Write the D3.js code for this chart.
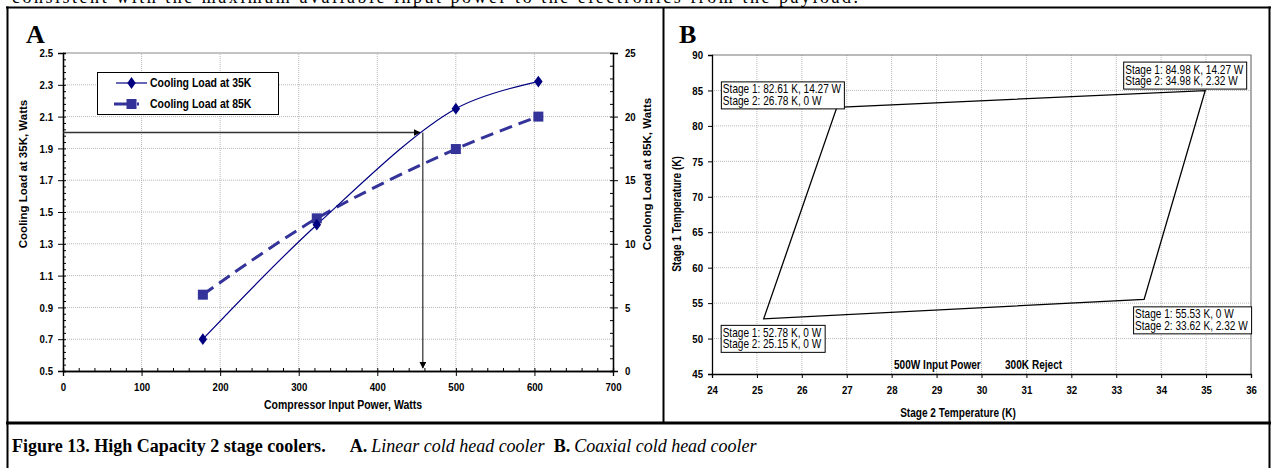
<!DOCTYPE html>
<html>
<head>
<meta charset="utf-8">
<script src="https://cdn.jsdelivr.net/npm/d3@7"></script>
<style>
body { margin: 0; background: #fff; }
text { font-family: "Liberation Sans Narrow", "Arial Narrow", "Liberation Sans", sans-serif; }
.serif { font-family: "Liberation Serif", "Times New Roman", serif; }
.tick text { font-weight: bold; font-size: 11.5px; fill: #000; }
.grid line { stroke: #b8b8b8; stroke-dasharray: 1,1; }
</style>
</head>
<body>
<script>
// ---- panel A : linear cold head cooler
var power = [178, 323, 500, 605];          // compressor input power, W
var load35 = [0.70, 1.42, 2.15, 2.32];     // cooling load at 35K, W (left axis)
var load85 = [6.0, 12.0, 17.45, 20.0];     // cooling load at 85K, W (right axis)
var seriesNames = ["Cooling Load at 35K", "Cooling Load at 85K"];
var readOff = {power: 458, load: 2.0};     // arrow read-off at 2 W

// ---- panel B : coaxial cold head cooler (load map corners)
var stage2Temp = [25.15, 26.78, 34.98, 33.62];
var stage1Temp = [52.78, 82.61, 84.98, 55.53];
var cornerLabels = [
  ["Stage 1: 52.78 K, 0 W", "Stage 2: 25.15 K, 0 W"],
  ["Stage 1: 82.61 K, 14.27 W", "Stage 2: 26.78 K, 0 W"],
  ["Stage 1: 84.98 K, 14.27 W", "Stage 2: 34.98 K, 2.32 W"],
  ["Stage 1: 55.53 K, 0 W", "Stage 2: 33.62 K, 2.32 W"]
];
var notes = ["500W Input Power", "300K Reject"];

var W = 1271, H = 468;
var NARROW = 0.84;   // no Arial Narrow here, so squeeze the sans text
var svg = d3.select("body").append("svg")
  .attr("width", W).attr("height", H);

// squeeze text horizontally around its own x
function narrow(sel, k) {
  sel.each(function () {
    var t = d3.select(this);
    var x = +t.attr("x") || 0;
    var tr = t.attr("transform") || "";
    t.attr("transform", tr + " translate(" + x + ",0) scale(" + k + ",1) translate(" + (-x) + ",0)");
  });
}

// arrow marker
var defs = svg.append("defs");
defs.append("marker").attr("id", "arr")
  .attr("viewBox", "0 0 10 10").attr("refX", 9).attr("refY", 5)
  .attr("markerWidth", 7).attr("markerHeight", 7)
  .attr("markerUnits", "userSpaceOnUse")
  .attr("orient", "auto")
  .append("path").attr("d", "M0,0L10,5L0,10z").attr("fill", "#000");

// ---- page frame / table lines
svg.append("text").attr("class", "serif")
  .attr("x", 12).attr("y", 2.5)
  .attr("font-size", 18)
  .attr("textLength", 846).attr("lengthAdjust", "spacing")
  .text("consistent with the maximum available input power to the electronics from the payload.");

var frame = svg.append("g").attr("stroke", "#000").attr("fill", "none");
frame.append("line").attr("x1", 6).attr("x2", W).attr("y1", 7.5).attr("y2", 7.5).attr("stroke-width", 2);
frame.append("line").attr("x1", 7.5).attr("x2", 7.5).attr("y1", 6.5).attr("y2", H).attr("stroke-width", 2);
frame.append("line").attr("x1", 663.5).attr("x2", 663.5).attr("y1", 7).attr("y2", 422).attr("stroke-width", 2);
frame.append("line").attr("x1", 6).attr("x2", W).attr("y1", 423).attr("y2", 423).attr("stroke-width", 3);
frame.append("line").attr("x1", 1269.5).attr("x2", 1269.5).attr("y1", 6.5).attr("y2", H).attr("stroke-width", 2);

// caption
var cap = svg.append("text").attr("class", "serif")
  .attr("x", 12).attr("y", 452).attr("font-size", 18);
cap.append("tspan").attr("font-weight", "bold").text("Figure 13. High Capacity 2 stage coolers.");
cap.append("tspan").attr("dx", 24).attr("font-weight", "bold").text("A.");
cap.append("tspan").attr("dx", 4).attr("font-style", "italic").text("Linear cold head cooler");
cap.append("tspan").attr("dx", 9).attr("font-weight", "bold").text("B.");
cap.append("tspan").attr("dx", 4).attr("font-style", "italic").text("Coaxial cold head cooler");

// ================= PANEL A =================
var xA = d3.scaleLinear().domain([0, 700]).range([63, 613]);
var yA = d3.scaleLinear().domain([0.5, 2.5]).range([371, 53]);
var yA2 = d3.scaleLinear().domain([0, 25]).range([371, 53]);

var gA = svg.append("g");

gA.append("text").attr("class", "serif").attr("x", 26).attr("y", 43)
  .attr("font-size", 26).attr("font-weight", "bold").text("A");

// grid
gA.append("g").attr("class", "grid")
  .selectAll("line").data(d3.range(100, 700, 100)).enter().append("line")
  .attr("x1", function (d) { return xA(d); }).attr("x2", function (d) { return xA(d); })
  .attr("y1", yA(0.5)).attr("y2", yA(2.5));
gA.append("g").attr("class", "grid")
  .selectAll("line").data(d3.range(0.7, 2.45, 0.2)).enter().append("line")
  .attr("x1", xA(0)).attr("x2", xA(700))
  .attr("y1", function (d) { return yA(d); }).attr("y2", function (d) { return yA(d); });
gA.append("line").attr("x1", xA(0)).attr("x2", xA(700))
  .attr("y1", yA(2.5)).attr("y2", yA(2.5)).attr("stroke", "#888");

// axes
gA.append("g").attr("transform", "translate(0," + yA(0.5) + ")")
  .call(d3.axisBottom(xA).tickValues(d3.range(0, 701, 100)).tickSize(5).tickPadding(7).tickFormat(d3.format("d")));
gA.append("g").attr("transform", "translate(0," + yA(0.5) + ")")
  .call(d3.axisBottom(xA).tickValues(d3.range(0, 701, 20)).tickSize(-3).tickFormat(""));
gA.append("g").attr("transform", "translate(" + xA(0) + ",0)")
  .call(d3.axisLeft(yA).tickValues(d3.range(0.5, 2.51, 0.2)).tickSize(5).tickPadding(5).tickFormat(d3.format(".1f")));
gA.append("g").attr("transform", "translate(" + xA(0) + ",0)")
  .call(d3.axisLeft(yA).tickValues(d3.range(0.5, 2.51, 0.04)).tickSize(-3).tickFormat(""));
gA.append("g").attr("transform", "translate(" + xA(700) + ",0)")
  .call(d3.axisRight(yA2).tickValues(d3.range(0, 26, 5)).tickSize(5).tickPadding(7).tickFormat(d3.format("d")));
gA.append("g").attr("transform", "translate(" + xA(700) + ",0)")
  .call(d3.axisRight(yA2).tickValues(d3.range(0, 26, 1)).tickSize(-3).tickFormat(""));
gA.selectAll(".domain").attr("stroke", "#000").attr("stroke-width", 1.3);
narrow(gA.selectAll(".tick text"), NARROW);

// axis titles
gA.append("text").attr("transform", "translate(27,174) rotate(-90)")
  .attr("text-anchor", "middle").attr("font-family", "Liberation Sans, Arial, sans-serif")
  .attr("font-weight", "bold").attr("font-size", 11.5)
  .text("Cooling Load at 35K, Watts");
gA.append("text").attr("transform", "translate(651,174) rotate(-90)")
  .attr("text-anchor", "middle").attr("font-family", "Liberation Sans, Arial, sans-serif")
  .attr("font-weight", "bold").attr("font-size", 11.5)
  .text("Coolong Load at 85K, Watts");
narrow(gA.append("text").attr("x", 343).attr("y", 409)
  .attr("text-anchor", "middle").attr("font-weight", "bold").attr("font-size", 12.5)
  .text("Compressor Input Power, Watts"), NARROW);

// read-off arrows
gA.append("line")
  .attr("x1", xA(0)).attr("x2", xA(readOff.power) - 3)
  .attr("y1", yA(readOff.load)).attr("y2", yA(readOff.load))
  .attr("stroke", "#333").attr("stroke-width", 1.5).attr("marker-end", "url(#arr)");
gA.append("line")
  .attr("x1", xA(readOff.power)).attr("x2", xA(readOff.power))
  .attr("y1", yA(readOff.load)).attr("y2", yA(0.5) - 3)
  .attr("stroke", "#000").attr("stroke-width", 1).attr("marker-end", "url(#arr)");

// series
var pts35 = power.map(function (p, i) { return [xA(p), yA(load35[i])]; });
var pts85 = power.map(function (p, i) { return [xA(p), yA2(load85[i])]; });
var smooth = d3.line().curve(d3.curveCatmullRom.alpha(0.5));

gA.append("path").attr("d", smooth(pts85)).attr("fill", "none")
  .attr("stroke", "#333399").attr("stroke-width", 3).attr("stroke-dasharray", "13,7");
gA.append("path").attr("d", smooth(pts35)).attr("fill", "none")
  .attr("stroke", "#000080").attr("stroke-width", 1.2);

gA.selectAll(".sq").data(pts85).enter().append("rect")
  .attr("x", function (d) { return d[0] - 5; }).attr("y", function (d) { return d[1] - 5; })
  .attr("width", 10).attr("height", 10).attr("fill", "#333399");
var diamond = d3.symbol().type(d3.symbolDiamond).size(40);
gA.selectAll(".dm").data(pts35).enter().append("path")
  .attr("d", diamond)
  .attr("transform", function (d) { return "translate(" + d[0] + "," + d[1] + ") scale(1.25,1)"; })
  .attr("fill", "#000080");

// legend
var lg = gA.append("g").attr("transform", "translate(97,72)");
lg.append("rect").attr("x", 0.5).attr("y", 0.5).attr("width", 181).attr("height", 42)
  .attr("fill", "#fff").attr("stroke", "#000").attr("stroke-width", 1);
lg.append("line").attr("x1", 19).attr("x2", 50).attr("y1", 11).attr("y2", 11)
  .attr("stroke", "#000080").attr("stroke-width", 1.2);
lg.append("path").attr("d", diamond).attr("transform", "translate(34.5,11) scale(1.25,1)").attr("fill", "#000080");
lg.append("line").attr("x1", 17).attr("x2", 51).attr("y1", 32).attr("y2", 32)
  .attr("stroke", "#333399").attr("stroke-width", 3).attr("stroke-dasharray", "13,10,2,10");
lg.append("rect").attr("x", 29.5).attr("y", 27).attr("width", 10).attr("height", 10).attr("fill", "#333399");
narrow(lg.selectAll(".lt").data(seriesNames).enter().append("text")
  .attr("x", 53).attr("y", function (d, i) { return 15 + i * 21; })
  .attr("font-weight", "bold").attr("font-size", 12.5).text(function (d) { return d; }), NARROW);

// ================= PANEL B =================
var xB = d3.scaleLinear().domain([24, 36]).range([712, 1251]);
var yB = d3.scaleLinear().domain([45, 90]).range([374, 55]);
var gB = svg.append("g");

gB.append("text").attr("class", "serif").attr("x", 679).attr("y", 43)
  .attr("font-size", 26).attr("font-weight", "bold").text("B");

gB.append("g").attr("class", "grid")
  .selectAll("line").data(d3.range(25, 36, 1)).enter().append("line")
  .attr("x1", function (d) { return xB(d); }).attr("x2", function (d) { return xB(d); })
  .attr("y1", yB(45)).attr("y2", yB(90));
gB.append("g").attr("class", "grid")
  .selectAll("line").data(d3.range(50, 90, 5)).enter().append("line")
  .attr("x1", xB(24)).attr("x2", xB(36))
  .attr("y1", function (d) { return yB(d); }).attr("y2", function (d) { return yB(d); });
gB.append("path")
  .attr("d", "M" + xB(24) + "," + yB(90) + "H" + xB(36) + "V" + yB(45))
  .attr("fill", "none").attr("stroke", "#777").attr("stroke-width", 1.2);

gB.append("g").attr("transform", "translate(0," + yB(45) + ")")
  .call(d3.axisBottom(xB).tickValues(d3.range(24, 37, 1)).tickSize(4).tickPadding(8).tickFormat(d3.format("d")));
gB.append("g").attr("transform", "translate(" + xB(24) + ",0)")
  .call(d3.axisLeft(yB).tickValues(d3.range(45, 91, 5)).tickSize(4).tickPadding(5).tickFormat(d3.format("d")));
gB.selectAll(".domain").attr("stroke", "#000").attr("stroke-width", 1.3);
narrow(gB.selectAll(".tick text"), NARROW);

narrow(gB.append("text").attr("transform", "translate(681,214) rotate(-90)")
  .attr("text-anchor", "middle").attr("font-weight", "bold").attr("font-size", 12)
  .text("Stage 1 Temperature (K)"), NARROW);
narrow(gB.append("text").attr("x", 958).attr("y", 417)
  .attr("text-anchor", "middle").attr("font-weight", "bold").attr("font-size", 12)
  .text("Stage 2 Temperature (K)"), NARROW);

var corners = stage2Temp.map(function (t, i) { return [xB(t), yB(stage1Temp[i])]; });
gB.append("path").attr("d", d3.line()(corners) + "Z")
  .attr("fill", "none").attr("stroke", "#000").attr("stroke-width", 1.3);

// corner labels: box left/top offset from its corner point
var boxOffset = [[-43, 6], [-116, -26], [-82, -29], [-11, 7]];
corners.forEach(function (c, i) {
  var g = gB.append("g").attr("transform", "translate(" + (c[0] + boxOffset[i][0]) + "," + (c[1] + boxOffset[i][1]) + ")");
  var box = g.append("rect").attr("fill", "#fff").attr("stroke", "#000").attr("stroke-width", 1);
  var t = g.selectAll("text").data(cornerLabels[i]).enter().append("text")
    .attr("x", 2).attr("y", function (d, j) { return 12 + j * 11.5; })
    .attr("font-size", 12).text(function (d) { return d; });
  var w = d3.max(t.nodes(), function (n) { return n.getComputedTextLength(); }) * NARROW;
  narrow(t, NARROW);
  box.attr("x", 0.5).attr("y", 0.5).attr("width", Math.round(w) + 5).attr("height", 27);
});

narrow(gB.append("text").attr("x", 894).attr("y", 369).attr("font-weight", "bold").attr("font-size", 12).text(notes[0]), NARROW);
narrow(gB.append("text").attr("x", 1005).attr("y", 369).attr("font-weight", "bold").attr("font-size", 12).text(notes[1]), NARROW);
</script>
</body>
</html>
